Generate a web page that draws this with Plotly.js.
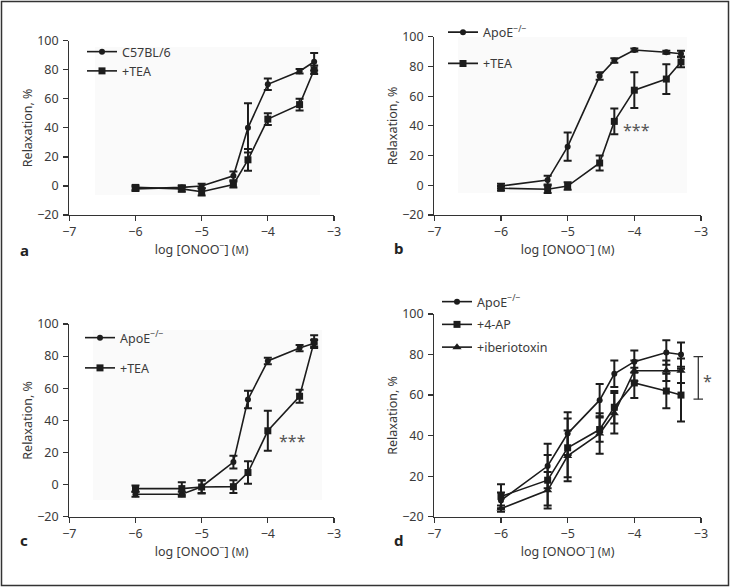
<!DOCTYPE html>
<html>
<head>
<meta charset="utf-8">
<script src="https://cdn.plot.ly/plotly-3.0.1.min.js"></script>
<style>html,body{margin:0;padding:0;background:#fff;}#chart{width:730px;height:587px;}</style>
</head>
<body>
<div id="chart"></div>
<script>
// log [ONOO-] (M)
const logConc = [-6, -5.3, -5, -4.52, -4.3, -4, -3.52, -3.3];

// Panel a
const aC57 = [-2, -1, 0, 7, 40, 70, 79, 85.5];
const aC57Err = [1.5, 1.5, 1.5, 3, 17, 4, 1.5, 6];
const aTEA = [-1, -2, -4, 1, 18, 46, 56, 80];
const aTEAErr = [1.5, 2, 2.5, 2, 7.5, 4, 4, 3];

// Panel b
const bApoE = [-0.5, 3.5, 26, 73.5, 84, 91, 89.5, 88.5];
const bApoEErr = [1.5, 3, 9.5, 2.5, 1.5, 1, 1, 2];
const bTEA = [-2, -2.7, -0.5, 15, 43, 64, 71.5, 83];
const bTEAErr = [1.5, 2.5, 2.5, 5, 8.7, 12, 10, 3.5];

// Panel c
const cApoE = [-6, -6, -1.3, 14, 53, 77, 85, 88];
const cApoEErr = [1.5, 1.5, 4, 4, 5.5, 2, 2, 2];
const cTEA = [-2.5, -2.5, -1.5, -1.3, 7.5, 33.5, 55, 89];
const cTEAErr = [2, 4, 4, 4, 7, 12.5, 4, 4];

// Panel d
const dApoE = [8, 25, 41, 57.5, 70.5, 76.5, 81, 80];
const dApoEErr = [4, 11, 10.5, 8, 6.5, 5.5, 6, 6];
const d4AP = [10, 18, 34, 43, 54, 66, 62, 60];
const d4APErr = [6, 12.5, 14.5, 6, 8, 7.5, 8.5, 13];
const dIbtx = [4, 13, 30, 41, 51, 72, 72, 72];
const dIbtxErr = [1.5, 9, 12.5, 10, 10, 5, 5, 6];

const xTicks = [-7, -6, -5, -4, -3];
const yTicks = [-20, 0, 20, 40, 60, 80, 100];
const dTickVals = [0, 20, 40, 60, 80, 100];
const dTickText = ['\u221220', '20', '40', '60', '80', '100'];

const names = {
  c57: 'C57BL/6', tea: '+TEA', apoe: 'ApoE<sup>\u2212/\u2212</sup>', ap: '+4-AP', ib: '+iberiotoxin'
};

const INK = '#1c1c1c';
const FONT = 'Noto Sans, Open Sans, sans-serif';
const TXT = '#3a3a3a';

function tr(y, err, name, sym, size, xa, ya, leg, grp) {
  return {
    x: logConc, y: y, name: name, type: 'scatter', mode: 'lines+markers',
    xaxis: xa, yaxis: ya, legend: leg, legendgroup: grp,
    line: {color: INK, width: 1.6},
    marker: {symbol: sym, size: size, color: INK},
    error_y: {type: 'data', array: err, visible: true, color: INK, thickness: 2, width: 4},
    cliponaxis: false
  };
}

const data = [
  tr(aC57, aC57Err, names.c57, 'circle', 6, 'x', 'y', 'legend', 'a1'),
  tr(aTEA, aTEAErr, names.tea, 'square', 7, 'x', 'y', 'legend', 'a2'),
  tr(bApoE, bApoEErr, names.apoe, 'circle', 6, 'x2', 'y2', 'legend2', 'b1'),
  tr(bTEA, bTEAErr, names.tea, 'square', 7, 'x2', 'y2', 'legend2', 'b2'),
  tr(cApoE, cApoEErr, names.apoe, 'circle', 6, 'x3', 'y3', 'legend3', 'c1'),
  tr(cTEA, cTEAErr, names.tea, 'square', 7, 'x3', 'y3', 'legend3', 'c2'),
  tr(dApoE, dApoEErr, names.apoe, 'circle', 6, 'x4', 'y4', 'legend4', 'd1'),
  tr(d4AP, d4APErr, names.ap, 'square', 7, 'x4', 'y4', 'legend4', 'd2'),
  tr(dIbtx, dIbtxErr, names.ib, 'triangle-up', 8, 'x4', 'y4', 'legend4', 'd3')
];

const W = 730, H = 587;
const px = v => v / W;
const py = v => 1 - v / H;

function xax(l, r, anchor) {
  return {
    domain: [px(l), px(r)], anchor: anchor, range: [-7, -3], tickvals: xTicks,
    showgrid: false, zeroline: false, showline: true, linecolor: '#333', linewidth: 1.2,
    ticks: 'outside', ticklen: 5, tickwidth: 1.2, tickcolor: '#333',
    tickfont: {family: FONT, size: 12.5, color: TXT},
    title: {text: 'log [ONOO<sup>\u2212</sup>] (<span style="font-size:10px">M</span>)', font: {family: FONT, size: 12.5, color: TXT}, standoff: 2},
    automargin: false, fixedrange: true
  };
}
function yax(top, bot, anchor, range, tv, tt) {
  const o = {
    domain: [py(bot), py(top)], anchor: anchor, range: range, tickvals: tv,
    showgrid: false, zeroline: false, showline: true, linecolor: '#333', linewidth: 1.2,
    ticks: 'outside', ticklen: 5, tickwidth: 1.2, tickcolor: '#333',
    tickfont: {family: FONT, size: 12.5, color: TXT}, ticklabelstandoff: 2,
    title: {text: 'Relaxation, %', font: {family: FONT, size: 12.5, color: TXT}, standoff: 1},
    automargin: false, fixedrange: true
  };
  if (tt) o.ticktext = tt;
  return o;
}

function leg(left, top, gap) {
  return {
    x: px(left), y: py(top), xanchor: 'left', yanchor: 'top',
    bgcolor: 'rgba(0,0,0,0)', borderwidth: 0,
    font: {family: FONT, size: 12.5, color: TXT},
    traceorder: 'grouped', tracegroupgap: gap, itemclick: false, itemdoubleclick: false
  };
}

const layout = {
  width: W, height: H,
  margin: {l: 0, r: 0, t: 0, b: 0},
  paper_bgcolor: '#fff', plot_bgcolor: 'rgba(0,0,0,0)',
  showlegend: true,
  font: {family: FONT, color: TXT},
  xaxis: xax(69.3, 334, 'y'),
  yaxis: yax(40.7, 215, 'x', [-20, 100], yTicks),
  xaxis2: xax(434.3, 701, 'y2'),
  yaxis2: yax(36.7, 215, 'x2', [-20, 100], yTicks),
  xaxis3: xax(69.3, 334, 'y3'),
  yaxis3: yax(324, 516.7, 'x3', [-20, 100], yTicks),
  xaxis4: xax(434.3, 701, 'y4'),
  yaxis4: yax(314, 516.7, 'x4', [0, 100], dTickVals, dTickText),
  legend: leg(82, 37, 0),
  legend2: leg(443, 17.5, 12),
  legend3: leg(80, 323, 11),
  legend4: leg(437, 287, 3.5),
  shapes: [
    {type: 'rect', xref: 'paper', yref: 'paper', x0: px(1.5), x1: px(728.5), y0: py(585.5), y1: py(1.5), line: {color: '#333', width: 1.5}},
    {type: 'rect', xref: 'paper', yref: 'paper', x0: px(95), x1: px(320), y0: py(195), y1: py(47), line: {width: 0}, fillcolor: '#fafafa', layer: 'below'},
    {type: 'rect', xref: 'paper', yref: 'paper', x0: px(458), x1: px(687), y0: py(193), y1: py(37), line: {width: 0}, fillcolor: '#fafafa', layer: 'below'},
    {type: 'rect', xref: 'paper', yref: 'paper', x0: px(93), x1: px(322), y0: py(500), y1: py(330), line: {width: 0}, fillcolor: '#fafafa', layer: 'below'},
    {type: 'line', xref: 'paper', yref: 'y4', x0: px(698.3), x1: px(698.3), y0: 58, y1: 79, line: {color: '#333', width: 1.3}},
    {type: 'line', xref: 'paper', yref: 'y4', x0: px(693.5), x1: px(703), y0: 58, y1: 58, line: {color: '#333', width: 1.3}},
    {type: 'line', xref: 'paper', yref: 'y4', x0: px(693.5), x1: px(703), y0: 79, y1: 79, line: {color: '#333', width: 1.3}}
  ],
  annotations: [
    {text: '<b>a</b>', xref: 'paper', yref: 'paper', x: px(18), y: py(250), showarrow: false, font: {family: FONT, size: 15, color: '#222'}},
    {text: '<b>b</b>', xref: 'paper', yref: 'paper', x: px(398), y: py(248), showarrow: false, font: {family: FONT, size: 15, color: '#222'}},
    {text: '<b>c</b>', xref: 'paper', yref: 'paper', x: px(18), y: py(552), showarrow: false, font: {family: FONT, size: 15, color: '#222'}},
    {text: '<b>d</b>', xref: 'paper', yref: 'paper', x: px(398), y: py(552), showarrow: false, font: {family: FONT, size: 15, color: '#222'}},
    {text: '***', xref: 'x2', yref: 'y2', x: -3.97, y: 37, showarrow: false, font: {family: FONT, size: 16, color: '#555'}},
    {text: '***', xref: 'x3', yref: 'y3', x: -3.62, y: 27, showarrow: false, font: {family: FONT, size: 16, color: '#555'}},
    {text: '*', xref: 'paper', yref: 'y4', x: px(701), xanchor: 'left', y: 67, showarrow: false, font: {family: FONT, size: 16, color: '#555'}}
  ]
};

Plotly.newPlot('chart', data, layout, {displayModeBar: false, staticPlot: true});
</script>
</body>
</html>
